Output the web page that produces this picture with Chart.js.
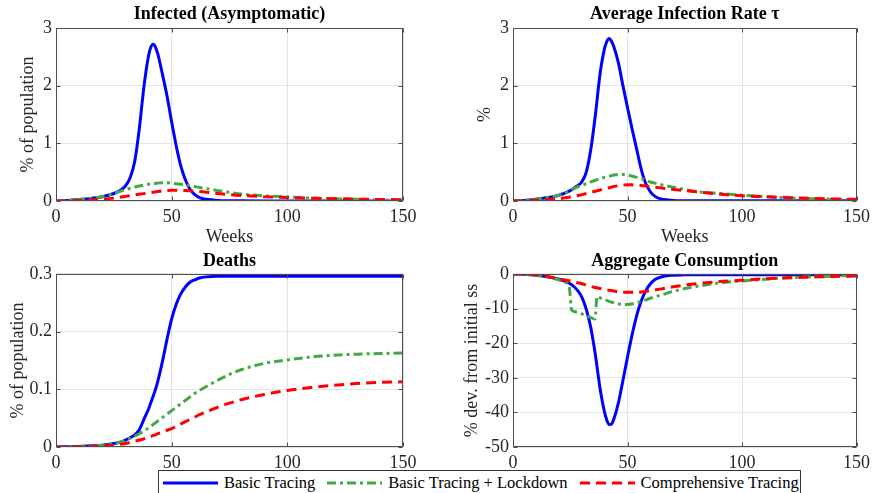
<!DOCTYPE html>
<html>
<head>
<meta charset="utf-8">
<title>Tracing scenarios</title>
<script src="https://cdn.jsdelivr.net/npm/chart.js@4.4.1/dist/chart.umd.min.js"></script>
<style>
  body { margin: 0; background: #fff; width: 875px; height: 493px; overflow: hidden; position: relative;
         font-family: "Liberation Serif", "Times New Roman", serif; }
  canvas { position: absolute; }
  #legend { position: absolute; left: 158px; top: 470px; width: 643px; height: 30px; box-sizing: border-box;
            border: 1px solid #333; background: #fff; display: flex; align-items: center;
            padding-left: 4px; padding-bottom: 4px; font-size: 16.5px; color: #000; white-space: nowrap; }
  #legend .item { display: flex; align-items: center; margin-right: 12px; }
  #legend svg { margin-right: 6px; }
</style>
</head>
<body>
<canvas id="c1" width="440" height="250" style="left:0;top:0"></canvas>
<canvas id="c2" width="435" height="250" style="left:440px;top:0"></canvas>
<canvas id="c3" width="440" height="243" style="left:0;top:250px"></canvas>
<canvas id="c4" width="435" height="243" style="left:440px;top:250px"></canvas>
<div id="legend"></div>
<script>
// ---- data ----
const weeks = [0,5,10,15,20,25,28,30,32,34,36,38,40,41,42,43,44,46,48,50,52,54,56,58,60,62,65,70,75,80,90,100,110,120,130,140,150];

const infBasic = [0,0.01,0.025,0.045,0.075,0.13,0.19,0.26,0.4,0.68,1.25,1.98,2.52,2.67,2.72,2.67,2.55,2.2,1.82,1.37,0.95,0.6,0.36,0.2,0.11,0.06,0.03,0.01,0.005,0.003,0.002,0.002,0.002,0.002,0.002,0.002,0.002];
const infLock  = [0,0.01,0.025,0.045,0.075,0.13,0.17,0.2,0.22,0.24,0.26,0.275,0.29,0.295,0.3,0.305,0.31,0.315,0.315,0.31,0.3,0.29,0.28,0.265,0.25,0.235,0.215,0.18,0.15,0.12,0.09,0.07,0.05,0.04,0.03,0.02,0.015];
const infComp  = [0,0.005,0.012,0.02,0.03,0.05,0.068,0.08,0.092,0.104,0.116,0.128,0.14,0.146,0.152,0.158,0.164,0.174,0.181,0.185,0.186,0.185,0.182,0.176,0.17,0.163,0.153,0.13,0.11,0.095,0.075,0.06,0.05,0.04,0.033,0.027,0.022];

const tauBasic = [0,0.01,0.03,0.06,0.1,0.18,0.26,0.33,0.5,0.9,1.5,2.2,2.65,2.77,2.82,2.77,2.68,2.4,2.0,1.62,1.25,0.9,0.55,0.3,0.16,0.08,0.03,0.01,0.005,0.003,0.003,0.003,0.003,0.003,0.003,0.003,0.003];
const tauLock  = [0,0.01,0.03,0.06,0.1,0.18,0.24,0.27,0.3,0.33,0.36,0.39,0.41,0.42,0.43,0.44,0.45,0.46,0.46,0.45,0.43,0.41,0.39,0.36,0.33,0.31,0.28,0.24,0.2,0.165,0.13,0.1,0.075,0.055,0.04,0.03,0.02];
const tauComp  = [0,0.006,0.015,0.025,0.04,0.07,0.09,0.11,0.13,0.15,0.17,0.19,0.21,0.22,0.23,0.24,0.25,0.265,0.275,0.28,0.28,0.275,0.27,0.26,0.25,0.24,0.225,0.2,0.18,0.16,0.12,0.09,0.075,0.06,0.045,0.035,0.03];

const deathBasic = [0,0.0005,0.001,0.002,0.003,0.006,0.009,0.012,0.016,0.021,0.03,0.048,0.066,0.077,0.088,0.1,0.114,0.148,0.187,0.222,0.248,0.266,0.278,0.286,0.29,0.293,0.295,0.296,0.296,0.296,0.296,0.296,0.296,0.296,0.296,0.296,0.296];
const deathLock  = [0,0.0005,0.001,0.002,0.003,0.006,0.009,0.012,0.015,0.019,0.023,0.028,0.033,0.036,0.039,0.042,0.045,0.051,0.057,0.063,0.069,0.075,0.081,0.087,0.093,0.098,0.105,0.116,0.126,0.134,0.145,0.151,0.156,0.159,0.161,0.162,0.163];
const deathComp  = [0,0.0003,0.0007,0.0012,0.002,0.003,0.005,0.006,0.008,0.01,0.012,0.014,0.017,0.018,0.02,0.021,0.023,0.026,0.029,0.032,0.036,0.04,0.044,0.048,0.052,0.056,0.061,0.069,0.076,0.082,0.091,0.098,0.103,0.107,0.11,0.112,0.113];

const consBasic = [0,-0.1,-0.3,-0.8,-1.5,-2.8,-4.6,-6.6,-10.2,-15.6,-23.5,-33,-40,-42.3,-43.5,-43.4,-42,-37.3,-30.8,-24,-17.6,-12,-7.8,-4.8,-2.8,-1.6,-0.8,-0.35,-0.25,-0.2,-0.2,-0.2,-0.2,-0.2,-0.2,-0.2,-0.2];
const consComp  = [0,-0.1,-0.3,-0.7,-1.4,-2.0,-2.5,-2.8,-3.2,-3.6,-3.9,-4.2,-4.5,-4.6,-4.7,-4.8,-4.9,-5.1,-5.2,-5.3,-5.3,-5.3,-5.2,-5.0,-4.8,-4.6,-4.3,-3.7,-3.2,-2.8,-2.2,-1.8,-1.4,-1.1,-0.9,-0.7,-0.6];

// lockdown consumption has two jumps, so it keeps its own week grid
const lockWeeks = [0,5,10,15,20,23,24.5,25.6,28,30,33,35.8,36.7,38,40,42,44,46,48,50,52,54,56,58,60,65,70,75,80,90,100,110,120,130,140,150];
const consLock  = [0,-0.1,-0.4,-0.9,-1.7,-2.5,-3.4,-10.4,-11,-11.5,-12.3,-13,-6.5,-6.9,-7.4,-7.9,-8.3,-8.6,-8.8,-8.8,-8.6,-8.3,-7.9,-7.5,-7.0,-6.0,-5.0,-4.2,-3.6,-2.6,-2.0,-1.5,-1.1,-0.8,-0.6,-0.45];

const seriesNames  = ['Basic Tracing', 'Basic Tracing + Lockdown', 'Comprehensive Tracing'];
const seriesColors = ['#0000ff', '#44a844', '#ff0000'];
const seriesDash   = [[], [9, 4, 3, 4], [10, 6]];

const FONT = '"Liberation Serif", "Times New Roman", serif';

// MATLAB-style closed box with inward ticks
const boxPlugin = {
  id: 'matlabBox',
  afterDraw(chart) {
    const { ctx, chartArea: a, scales: { x, y } } = chart;
    const L = Math.round(a.left) + 0.5, R = Math.round(a.right) - 0.5;
    const T = Math.round(a.top) + 0.5, B = Math.round(a.bottom) - 0.5;
    ctx.save();
    ctx.strokeStyle = '#4d4d4d';
    ctx.lineWidth = 1;
    ctx.beginPath();
    x.ticks.forEach(t => {
      const px = Math.round(x.getPixelForValue(t.value)) + 0.5;
      ctx.moveTo(px, B); ctx.lineTo(px, B - 4);
      ctx.moveTo(px, T); ctx.lineTo(px, T + 4);
    });
    y.ticks.forEach(t => {
      const py = Math.round(y.getPixelForValue(t.value)) + 0.5;
      ctx.moveTo(L, py); ctx.lineTo(L + 4, py);
      ctx.moveTo(R, py); ctx.lineTo(R - 4, py);
    });
    ctx.rect(L, T, R - L, B - T);
    ctx.stroke();
    ctx.restore();
  }
};

function panel(id, p) {
  const series = p.series.map((s, i) => ({
    label: seriesNames[i],
    data: s[0].map((w, k) => ({ x: w, y: s[1][k] })),
    borderColor: seriesColors[i],
    borderWidth: 3,
    borderDash: seriesDash[i],
    pointRadius: 0,
    cubicInterpolationMode: 'monotone',
    order: 3 - i
  }));
  new Chart(document.getElementById(id), {
    type: 'line',
    data: { datasets: series },
    options: {
      responsive: false,
      animation: false,
      events: [],
      layout: { padding: { right: p.padRight } },
      plugins: {
        legend: { display: false },
        tooltip: { enabled: false },
        title: {
          display: true, text: p.title, fullSize: false, color: '#000',
          font: { family: FONT, size: 18, weight: 'bold', lineHeight: 1.2 },
          padding: p.titlePad
        }
      },
      scales: {
        x: {
          type: 'linear', min: 0, max: 150,
          ticks: { stepSize: 50, padding: 5, maxRotation: 0, color: '#262626', font: { family: FONT, size: 18 } },
          grid: { color: '#e3e3e3', drawTicks: false },
          border: { display: false },
          title: {
            display: !!p.xlabel, text: p.xlabel, color: '#262626',
            font: { family: FONT, size: 18, lineHeight: 1.2 }, padding: { top: 0, bottom: 2 }
          },
          afterFit: s => { s.height = p.xHeight; }
        },
        y: {
          min: p.ymin, max: p.ymax,
          ticks: { stepSize: p.ystep, padding: 4, color: '#262626', font: { family: FONT, size: 18 } },
          grid: { color: '#e3e3e3', drawTicks: false },
          border: { display: false },
          title: {
            display: true, text: p.ylabel, color: '#262626',
            font: { family: FONT, size: 18, lineHeight: 1.2 }, padding: { top: p.yTitleOff, bottom: 0 }
          },
          afterFit: s => { s.width = p.yWidth; }
        }
      }
    },
    plugins: [boxPlugin]
  });
}

panel('c1', {
  title: 'Infected (Asymptomatic)', xlabel: 'Weeks', ylabel: '% of population',
  ymin: 0, ymax: 3, ystep: 1, yWidth: 56, padRight: 37, xHeight: 49, yTitleOff: 17,
  titlePad: { top: 4, bottom: 2.4 },
  series: [[weeks, infBasic], [weeks, infLock], [weeks, infComp]]
});
panel('c2', {
  title: 'Average Infection Rate \u03c4', xlabel: 'Weeks', ylabel: '%',
  ymin: 0, ymax: 3, ystep: 1, yWidth: 73, padRight: 16, xHeight: 49, yTitleOff: 34,
  titlePad: { top: 4, bottom: 2.4 },
  series: [[weeks, tauBasic], [weeks, tauLock], [weeks, tauComp]]
});
panel('c3', {
  title: 'Deaths', xlabel: '', ylabel: '% of population',
  ymin: 0, ymax: 0.3, ystep: 0.1, yWidth: 56, padRight: 37, xHeight: 46, yTitleOff: 7,
  titlePad: { top: 1, bottom: 1.4 },
  series: [[weeks, deathBasic], [weeks, deathLock], [weeks, deathComp]]
});
panel('c4', {
  title: 'Aggregate Consumption', xlabel: '', ylabel: '% dev. from initial ss',
  ymin: -50, ymax: 0, ystep: 10, yWidth: 73, padRight: 16, xHeight: 46, yTitleOff: 21,
  titlePad: { top: 1, bottom: 1.4 },
  series: [[weeks, consBasic], [lockWeeks, consLock], [weeks, consComp]]
});

// shared legend below the grid
const legend = document.getElementById('legend');
seriesNames.forEach((name, i) => {
  const item = document.createElement('div');
  item.className = 'item';
  item.innerHTML =
    '<svg width="55" height="10"><line x1="0" y1="5" x2="55" y2="5" stroke="' + seriesColors[i] +
    '" stroke-width="3" stroke-dasharray="' + seriesDash[i].join(' ') + '"/></svg><span>' + name + '</span>';
  legend.appendChild(item);
});
</script>
</body>
</html>
